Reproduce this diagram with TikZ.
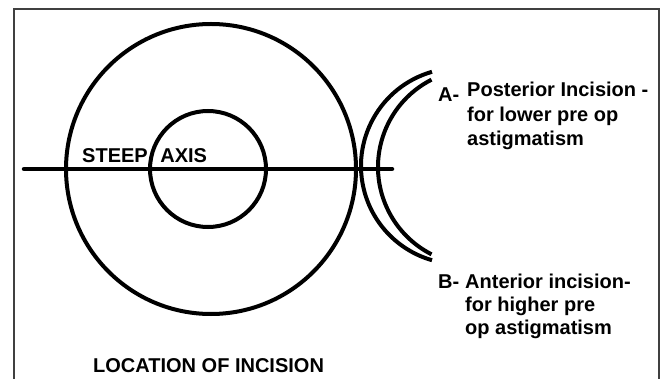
\documentclass[tikz,border=0pt]{standalone}
\usepackage{fontspec}
\setmainfont{Liberation Sans}
\usepackage{tikz}

\begin{document}
\begin{tikzpicture}
            [every node/.style={inner sep=0pt, font=\bfseries\fontsize{20}{24}\selectfont},
             thick line/.style={line width=4pt, color=black},
             label line/.style={anchor=base west}]
                \useasboundingbox (0pt, 0pt) rectangle (660pt, -379pt);
                \draw [line width=1.5pt, color=black!75] (14pt, -379pt) -- (14pt, -9pt) -- (659pt, -9pt) -- (659pt, -379pt);
                \coordinate (eye) at (211pt, -169pt);
                \coordinate (pupil) at (208pt, -169pt);
                \coordinate (axisL) at (24pt, -169pt);
                \coordinate (axisR) at (392pt, -169pt);
                \coordinate (postC) at (459pt, -166pt);
                \coordinate (antC) at (476pt, -167pt);
                \draw [thick line] (eye) circle [radius=145pt];
                \draw [thick line] (pupil) circle [radius=58pt];
                \draw [thick line, line width=4.5pt, line cap=round] (axisL) to (axisR);
                \draw [thick line] ([shift={(106:98pt)}]postC) arc [start angle=106, end angle=254, radius=98pt];
                \draw [thick line] ([shift={(117:98pt)}]antC) arc [start angle=117, end angle=243, radius=98pt];
                \node (steep) [label line] at (82pt, -163pt) {STEEP\hspace{7pt} AXIS};
                \node (A) [label line] at (438pt, -102pt) {A-};
                \node (A1) [label line] at (467pt, -97pt) {Posterior Incision -};
                \node (A2) [label line] at (467pt, -122pt) {for lower pre op};
                \node (A3) [label line] at (467pt, -146pt) {astigmatism};
                \node (B) [label line] at (438pt, -288pt) {B-};
                \node (B1) [label line] at (465pt, -288pt) {Anterior incision-};
                \node (B2) [label line] at (465pt, -311pt) {for higher pre};
                \node (B3) [label line] at (465pt, -334pt) {op astigmatism};
                \node (title) [label line] at (93pt, -372pt) {LOCATION OF INCISION};
            \end{tikzpicture}
\end{document}
